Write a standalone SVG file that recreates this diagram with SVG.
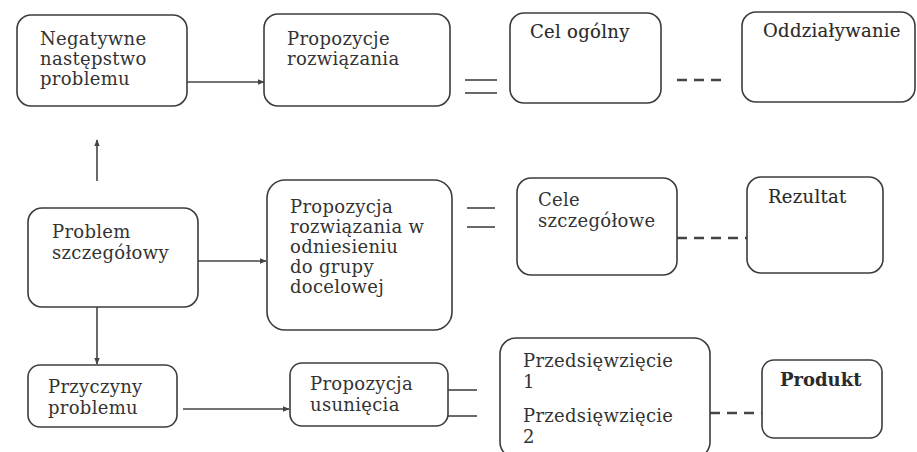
<svg xmlns="http://www.w3.org/2000/svg" width="917" height="452" viewBox="0 0 917 452">
<defs>
<marker id="ah" viewBox="0 0 10 10" refX="9" refY="5" markerWidth="7" markerHeight="7" orient="auto" markerUnits="userSpaceOnUse">
<path d="M0,1 L10,5 L0,9 z" fill="#444"/>
</marker>
<style>
.box{fill:#fff;stroke:#3c3c3c;stroke-width:1.6}
.t{font-family:"DejaVu Serif","Liberation Serif",serif;font-size:18px;letter-spacing:0.3px;fill:#333}
.tm{font-family:"DejaVu Serif","Liberation Serif",serif;font-size:18px;letter-spacing:0.3px;fill:#2a2a2a;stroke:#2a2a2a;stroke-width:0.15}
.tb{font-family:"DejaVu Serif","Liberation Serif",serif;font-size:18px;fill:#2a2a2a;font-weight:bold}
.ln{stroke:#444;stroke-width:1.6;fill:none}
.eq{stroke:#444;stroke-width:1.6;fill:none}
.da{stroke:#444;stroke-width:2.5;fill:none;stroke-dasharray:10 7}
</style>
</defs>
<rect width="917" height="452" fill="#fff"/>

<g id="connectors">
<line class="ln" x1="187" y1="82" x2="264" y2="82" marker-end="url(#ah)"/>
<line class="eq" x1="465" y1="80" x2="497" y2="80"/>
<line class="eq" x1="465" y1="93" x2="497" y2="93"/>
<line class="da" x1="677" y1="80" x2="724" y2="80"/>
<line class="ln" x1="97" y1="181" x2="97" y2="140" marker-end="url(#ah)"/>
<line class="ln" x1="198" y1="261" x2="266" y2="261" marker-end="url(#ah)"/>
<line class="eq" x1="467" y1="208" x2="495" y2="208"/>
<line class="eq" x1="467" y1="227" x2="495" y2="227"/>
<line class="da" x1="677" y1="238" x2="747" y2="238"/>
<line class="ln" x1="97" y1="307" x2="97" y2="364" marker-end="url(#ah)"/>
<line class="ln" x1="183" y1="409" x2="289" y2="409" marker-end="url(#ah)"/>
<line class="ln" x1="448" y1="390" x2="477" y2="390" stroke-width="1"/>
<line class="ln" x1="448" y1="416" x2="477" y2="416" stroke-width="1"/>
<line class="da" x1="710" y1="413" x2="762" y2="413"/>
</g>

<g id="n1"><rect class="box" x="17" y="15" width="170" height="91" rx="14"/>
<text class="t" x="40" y="45">Negatywne</text>
<text class="t" x="40" y="65">następstwo</text>
<text class="t" x="40" y="85">problemu</text></g>

<g id="n2"><rect class="box" x="264" y="14" width="186" height="92" rx="14"/>
<text class="t" x="287" y="45">Propozycje</text>
<text class="t" x="287" y="65">rozwiązania</text></g>

<g id="n3"><rect class="box" x="510" y="13" width="151" height="90" rx="14"/>
<text class="tm" x="530" y="38">Cel ogólny</text></g>

<g id="n4"><rect class="box" x="742" y="12" width="173" height="90" rx="14"/>
<text class="tm" x="763" y="37">Oddziaływanie</text></g>

<g id="n5"><rect class="box" x="28" y="208" width="170" height="99" rx="14"/>
<text class="t" x="52" y="238">Problem</text>
<text class="t" x="52" y="259">szczegółowy</text></g>

<g id="n6"><rect class="box" x="267" y="180" width="185" height="150" rx="18"/>
<text class="t" x="290" y="213">Propozycja</text>
<text class="t" x="290" y="233">rozwiązania w</text>
<text class="t" x="290" y="253">odniesieniu</text>
<text class="t" x="290" y="273">do grupy</text>
<text class="t" x="290" y="293">docelowej</text></g>

<g id="n7"><rect class="box" x="517" y="178" width="160" height="97" rx="14"/>
<text class="t" x="538" y="206">Cele</text>
<text class="t" x="538" y="227">szczegółowe</text></g>

<g id="n8"><rect class="box" x="747" y="177" width="136" height="96" rx="14"/>
<text class="tm" x="768" y="203">Rezultat</text></g>

<g id="n9"><rect class="box" x="28" y="365" width="149" height="62" rx="12"/>
<text class="t" x="48" y="393">Przyczyny</text>
<text class="t" x="48" y="414">problemu</text></g>

<g id="n10"><rect class="box" x="290" y="363" width="158" height="63" rx="12"/>
<text class="t" x="310" y="390">Propozycja</text>
<text class="t" x="310" y="411">usunięcia</text></g>

<g id="n11"><rect class="box" x="500" y="338" width="210" height="120" rx="16"/>
<text class="t" x="523" y="367">Przedsięwzięcie</text>
<text class="t" x="523" y="388">1</text>
<text class="t" x="523" y="422">Przedsięwzięcie</text>
<text class="t" x="523" y="443">2</text></g>

<g id="n12"><rect class="box" x="762" y="360" width="120" height="78" rx="12"/>
<text class="tb" x="780" y="386">Produkt</text></g>
</svg>
